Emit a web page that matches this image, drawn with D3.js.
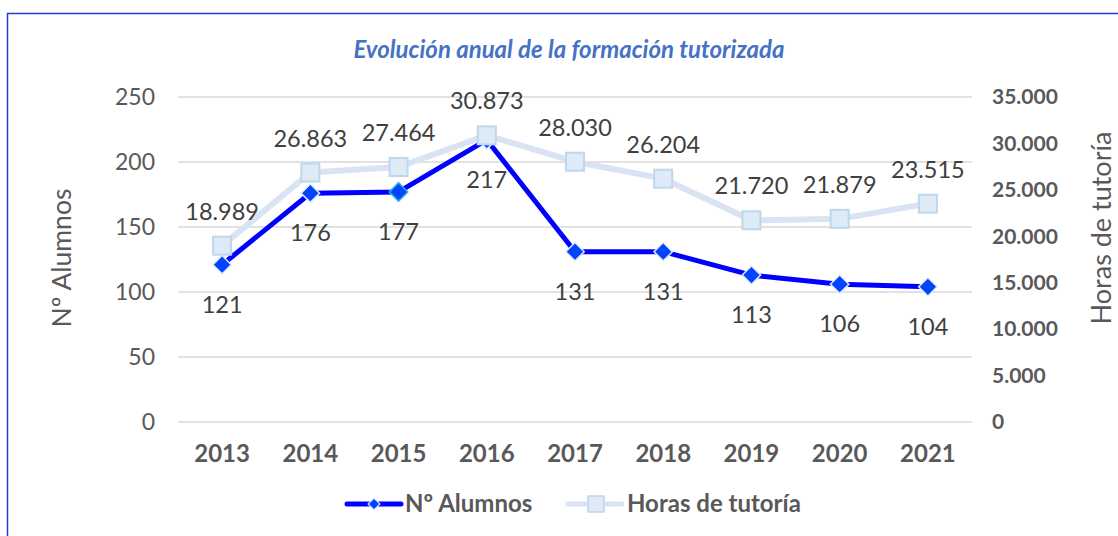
<!DOCTYPE html>
<html>
<head>
<meta charset="utf-8">
<script src="https://cdn.jsdelivr.net/npm/d3@7"></script>
<style>
  body { margin: 0; background: #fff; }
  svg { display: block; font-family: Lato, "Open Sans", sans-serif; }
</style>
</head>
<body>
<svg id="chart" width="1118" height="536"></svg>
<script>
const years = ["2013", "2014", "2015", "2016", "2017", "2018", "2019", "2020", "2021"];
const alumnos = [121, 176, 177, 217, 131, 131, 113, 106, 104];
const horas = [18989, 26863, 27464, 30873, 28030, 26204, 21720, 21879, 23515];
const leftTicks = [0, 50, 100, 150, 200, 250];
const rightTicks = [0, 5000, 10000, 15000, 20000, 25000, 30000, 35000];

const svg = d3.select("#chart");
const grey = "#595959";
const fmt = (v) => d3.format(",")(v).replace(/,/g, ".");

const plot = { left: 178, right: 972, top: 97, bottom: 422 };

// frame
svg.append("rect")
  .attr("x", 7.5).attr("y", 13.5)
  .attr("width", 1130).attr("height", 540)
  .attr("fill", "none")
  .attr("stroke", "#1f3fd6")
  .attr("stroke-width", 1.5);

// title
svg.append("text")
  .attr("x", 569).attr("y", 58)
  .attr("text-anchor", "middle")
  .style("font-size", "24px")
  .style("font-weight", "bold")
  .style("font-style", "italic")
  .style("fill", "#4472C4")
  .text("Evolución anual de la formación tutorizada");

// scales
const x = d3.scaleBand().domain(years).range([plot.left, plot.right]);
const xc = (d) => x(d) + x.bandwidth() / 2;
const yL = d3.scaleLinear().domain([0, 250]).range([plot.bottom, plot.top]);
const yR = d3.scaleLinear().domain([0, 35000]).range([plot.bottom, plot.top]);

// gridlines
svg.append("g")
  .selectAll("line")
  .data(leftTicks)
  .join("line")
  .attr("x1", plot.left).attr("x2", plot.right)
  .attr("y1", (d) => yL(d)).attr("y2", (d) => yL(d))
  .attr("stroke", "#d9d9d9")
  .attr("stroke-width", 1.5);

// left axis
const axL = svg.append("g")
  .attr("transform", `translate(${plot.left - 23}, 0)`)
  .call(d3.axisLeft(yL).tickValues(leftTicks).tickSize(0).tickPadding(0));
axL.select(".domain").remove();
axL.selectAll("text")
  .style("font-size", "23px")
  .style("font-family", "Lato")
  .style("fill", grey);

// right axis
const axR = svg.append("g")
  .attr("transform", `translate(${plot.right + 20}, 0)`)
  .call(d3.axisRight(yR).tickValues(rightTicks).tickSize(0).tickPadding(0).tickFormat(fmt));
axR.select(".domain").remove();
axR.selectAll("text")
  .style("font-size", "21px")
  .style("font-weight", "bold")
  .style("font-family", "Lato")
  .style("fill", grey);

// x axis
const axX = svg.append("g")
  .attr("transform", `translate(0, ${plot.bottom + 23})`)
  .call(d3.axisBottom(x).tickSize(0).tickPadding(0));
axX.select(".domain").remove();
axX.selectAll("text")
  .style("font-size", "24px")
  .style("font-weight", "bold")
  .style("font-family", "Lato")
  .style("fill", grey);

// axis titles
svg.append("text")
  .attr("transform", `translate(71, 258) rotate(-90)`)
  .attr("text-anchor", "middle")
  .style("font-size", "26.5px")
  .style("fill", grey)
  .text("Nº Alumnos");

svg.append("text")
  .attr("transform", `translate(1111, 228) rotate(-90)`)
  .attr("text-anchor", "middle")
  .style("font-size", "27px")
  .style("fill", grey)
  .text("Horas de tutoría");

// alumnos series (primary axis, drawn first)
const alumnosData = years.map((y, i) => ({ year: y, v: alumnos[i] }));
svg.append("path")
  .datum(alumnosData)
  .attr("fill", "none")
  .attr("stroke", "#0000ff")
  .attr("stroke-width", 5)
  .attr("stroke-linejoin", "round")
  .attr("d", d3.line().x((d) => xc(d.year)).y((d) => yL(d.v)));

svg.append("g")
  .selectAll("path")
  .data(alumnosData)
  .join("path")
  .attr("transform", (d) => `translate(${xc(d.year)}, ${yL(d.v)}) rotate(45)`)
  .attr("d", d3.symbol().type(d3.symbolSquare).size(170))
  .attr("fill", "#0044ff")
  .attr("stroke", (d) => d.year === "2015" ? "#1fb4f0" : "#ddebf7")
  .attr("stroke-width", 1.5);

// horas series (secondary axis, on top)
const horasData = years.map((y, i) => ({ year: y, v: horas[i] }));
svg.append("path")
  .datum(horasData)
  .attr("fill", "none")
  .attr("stroke", "#dae3f3")
  .attr("stroke-width", 6)
  .attr("stroke-linejoin", "round")
  .attr("d", d3.line().x((d) => xc(d.year)).y((d) => yR(d.v)));

svg.append("g")
  .selectAll("rect")
  .data(horasData)
  .join("rect")
  .attr("x", (d) => xc(d.year) - 9)
  .attr("y", (d) => yR(d.v) - 9)
  .attr("width", 18).attr("height", 18)
  .attr("fill", "#deebf7")
  .attr("stroke", "#bdd7ee")
  .attr("stroke-width", 2);

// data labels
svg.append("g")
  .selectAll("text")
  .data(horasData)
  .join("text")
  .attr("x", (d) => xc(d.year))
  .attr("y", (d) => yR(d.v) - 26)
  .attr("text-anchor", "middle")
  .style("font-size", "23.5px")
  .style("fill", "#404040")
  .text((d) => fmt(d.v));

svg.append("g")
  .selectAll("text")
  .data(alumnosData)
  .join("text")
  .attr("x", (d) => xc(d.year))
  .attr("y", (d) => yL(d.v) + 48)
  .attr("text-anchor", "middle")
  .style("font-size", "23.5px")
  .style("fill", "#404040")
  .text((d) => d.v);

// legend
const leg = svg.append("g").attr("transform", "translate(0, 504)");
leg.append("line")
  .attr("x1", 347).attr("x2", 401)
  .attr("stroke", "#0000ff").attr("stroke-width", 5).attr("stroke-linecap", "round");
leg.append("path")
  .attr("transform", "translate(374, 0) rotate(45)")
  .attr("d", d3.symbol().type(d3.symbolSquare).size(70))
  .attr("fill", "#0044ff").attr("stroke", "#ddebf7").attr("stroke-width", 1.2);
leg.append("text")
  .attr("x", 405).attr("y", 0).attr("dy", "0.35em")
  .style("font-size", "24px").style("font-weight", "bold").style("fill", grey)
  .text("Nº Alumnos");

leg.append("line")
  .attr("x1", 568).attr("x2", 622)
  .attr("stroke", "#dae3f3").attr("stroke-width", 5).attr("stroke-linecap", "round");
leg.append("rect")
  .attr("x", 588).attr("y", -8).attr("width", 16).attr("height", 16)
  .attr("fill", "#deebf7").attr("stroke", "#bdd7ee").attr("stroke-width", 1.5);
leg.append("text")
  .attr("x", 627).attr("y", 0).attr("dy", "0.35em")
  .style("font-size", "24px").style("font-weight", "bold").style("fill", grey)
  .text("Horas de tutoría");
</script>
</body>
</html>
